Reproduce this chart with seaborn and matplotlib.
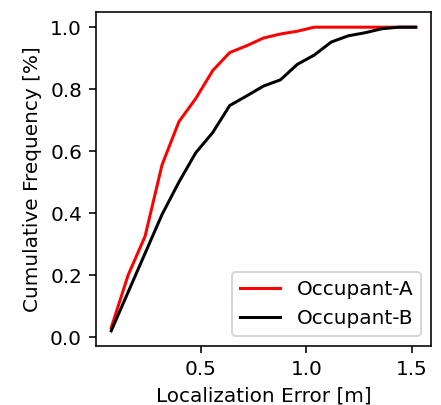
import matplotlib
matplotlib.use("Agg")
import matplotlib.pyplot as plt
import seaborn as sns
import pandas as pd

x_err = [0.077, 0.157, 0.237, 0.317, 0.397, 0.477, 0.557, 0.637, 0.717, 0.797,
         0.877, 0.957, 1.037, 1.117, 1.197, 1.277, 1.357, 1.437, 1.517]
occ_a = [0.03, 0.20, 0.325, 0.555, 0.695, 0.77, 0.86, 0.918, 0.94, 0.965,
         0.978, 0.987, 1.0, 1.0, 1.0, 1.0, 1.0, 1.0, 1.0]
occ_b = [0.02, 0.145, 0.27, 0.395, 0.50, 0.595, 0.66, 0.747, 0.778, 0.81,
         0.83, 0.88, 0.91, 0.952, 0.972, 0.982, 0.995, 1.0, 1.0]
names = ["Occupant-A", "Occupant-B"]
colors = {"Occupant-A": "red", "Occupant-B": "black"}

df = pd.concat([
    pd.DataFrame({"x": x_err, "y": occ_a, "who": names[0]}),
    pd.DataFrame({"x": x_err, "y": occ_b, "who": names[1]}),
])

DPI = 144
fig = plt.figure(figsize=(441 / DPI, 405 / DPI), dpi=DPI)
ax = fig.add_axes([96 / 441, 1 - 346 / 405, 335 / 441, 334 / 405])
sns.lineplot(data=df, x="x", y="y", hue="who", palette=colors, ax=ax,
             estimator=None, sort=False, linewidth=1.5)
ax.set_xlabel("Localization Error [m]")
ax.set_ylabel("Cumulative Frequency [%]")
ax.set_xticks([0.5, 1.0, 1.5])
ax.set_yticks([0.0, 0.2, 0.4, 0.6, 0.8, 1.0])
handles, labels = ax.get_legend_handles_labels()
ax.legend(handles, labels, loc="lower right")
fig.savefig("out.png", dpi=DPI)
